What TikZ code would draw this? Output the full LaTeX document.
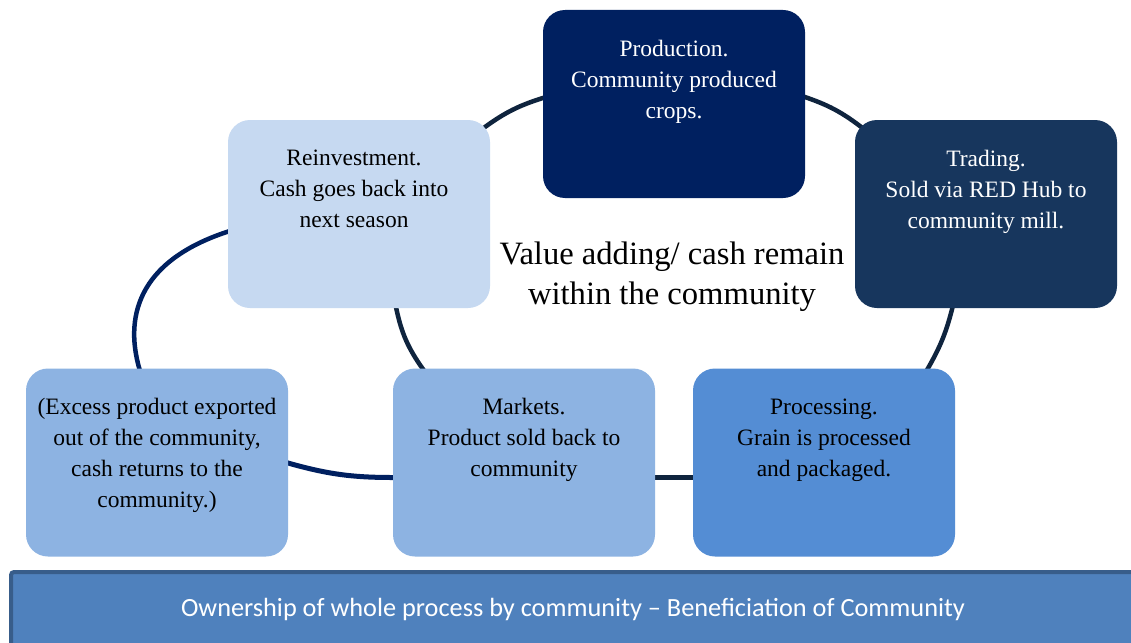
\documentclass[tikz,border=0pt]{standalone}
\usepackage{fontspec}
\setmainfont{Liberation Serif}
\newfontfamily\barfont{Carlito}
\usetikzlibrary{backgrounds,calc}
\definecolor{prodc}{HTML}{002060}
\definecolor{tradc}{HTML}{17365D}
\definecolor{reinc}{HTML}{C6D9F1}
\definecolor{markc}{HTML}{8DB3E2}
\definecolor{procc}{HTML}{548DD4}
\definecolor{barc}{HTML}{4F81BD}
\definecolor{barb}{HTML}{385D8A}
\definecolor{linkdark}{HTML}{0F243E}
\definecolor{linknavy}{HTML}{002060}
\tikzset{
  cyclebox/.style={rectangle, rounded corners=22pt, minimum width=262pt, minimum height=188pt, inner sep=0pt},
  boxtext/.style={anchor=north, inner sep=0pt, align=center, font=\fontsize{23.5}{31}\selectfont},
  link/.style={line width=4.5pt, draw=linkdark},
  linkn/.style={line width=4.5pt, draw=linknavy},
}
\begin{document}
\begin{tikzpicture}[x=1pt,y=-1pt]
\useasboundingbox (0,0) rectangle (1131,642);
% boxes
\node[cyclebox, fill=prodc] (prod) at (674,104) {};
\node[cyclebox, fill=reinc] (reinv) at (359,214) {};
\node[cyclebox, fill=tradc] (trad) at (986,214) {};
\node[cyclebox, fill=markc] (excess) at (157,462.5) {};
\node[cyclebox, fill=markc] (mark) at (524,462.5) {};
\node[cyclebox, fill=procc] (proc) at (824,462.5) {};
% texts
\node[boxtext, text=white] (prodt) at ($(prod.north)+(0,30)$) {Production.\\Community produced\\crops.};
\node[boxtext, text=black] (reinvt) at ($(reinv.north)+(-5,30)$) {Reinvestment.\\Cash goes back into\\next season};
\node[boxtext, text=white] (tradt) at ($(trad.north)+(0,30)$) {Trading.\\Sold via RED Hub to\\community mill.};
\node[boxtext, text=black] (excesst) at ($(excess.north)+(0,30)$) {(Excess product exported\\out of the community,\\cash returns to the\\community.)};
\node[boxtext, text=black] (markt) at ($(mark.north)+(0,30)$) {Markets.\\Product sold back to\\community};
\node[boxtext, text=black] (proct) at ($(proc.north)+(0,30)$) {Processing.\\Grain is processed\\and packaged.};
\node[align=center, inner sep=0pt, font=\fontsize{32.6}{40}\selectfont] (center) at (672,277) {Value adding/ cash remain\\within the community};
% bottom bar
\node[rectangle, fill=barc, draw=barb, line width=4pt, rounded corners=3pt,
      minimum width=1126pt, minimum height=76pt, inner sep=0pt] (bar) at (574,610) {};
\node[inner sep=0pt, text=white, font=\barfont\fontsize{26.3}{30}\selectfont] (bart) at (573,609) {Ownership of whole process by community – Beneficiation of Community};
% connectors
\begin{scope}[on background layer]
\fill[white] (0,0) rectangle (1131,642);
\draw[link] ($(reinv.north east)+(-9,10)$) to[bend left=10] ($(prod.north west)+(4,87)$);
\draw[link] ($(prod.north east)+(-4,86)$) to[bend left=10] ($(trad.north west)+(10,10)$);
\draw[link] ($(trad.south west)+(98,-2)$) to[bend left=8] ($(proc.north west)+(234,2)$);
\draw[link] ($(proc.west)+(2,15)$) -- ($(mark.east)+(-2,15)$);
\draw[linkn, line width=5pt] ($(mark.west)+(2,15)$) to[bend left=8] ($(excess.east)+(-2,0)$);
\draw[linkn] ($(excess.north west)+(114,2)$) .. controls (122,310) and (145,258) .. ($(reinv.west)+(2,17)$);
\draw[link] ($(reinv.south west)+(168,-2)$) to[bend right=12] ($(mark.north west)+(31,2)$);
\end{scope}
\end{tikzpicture}
\end{document}
